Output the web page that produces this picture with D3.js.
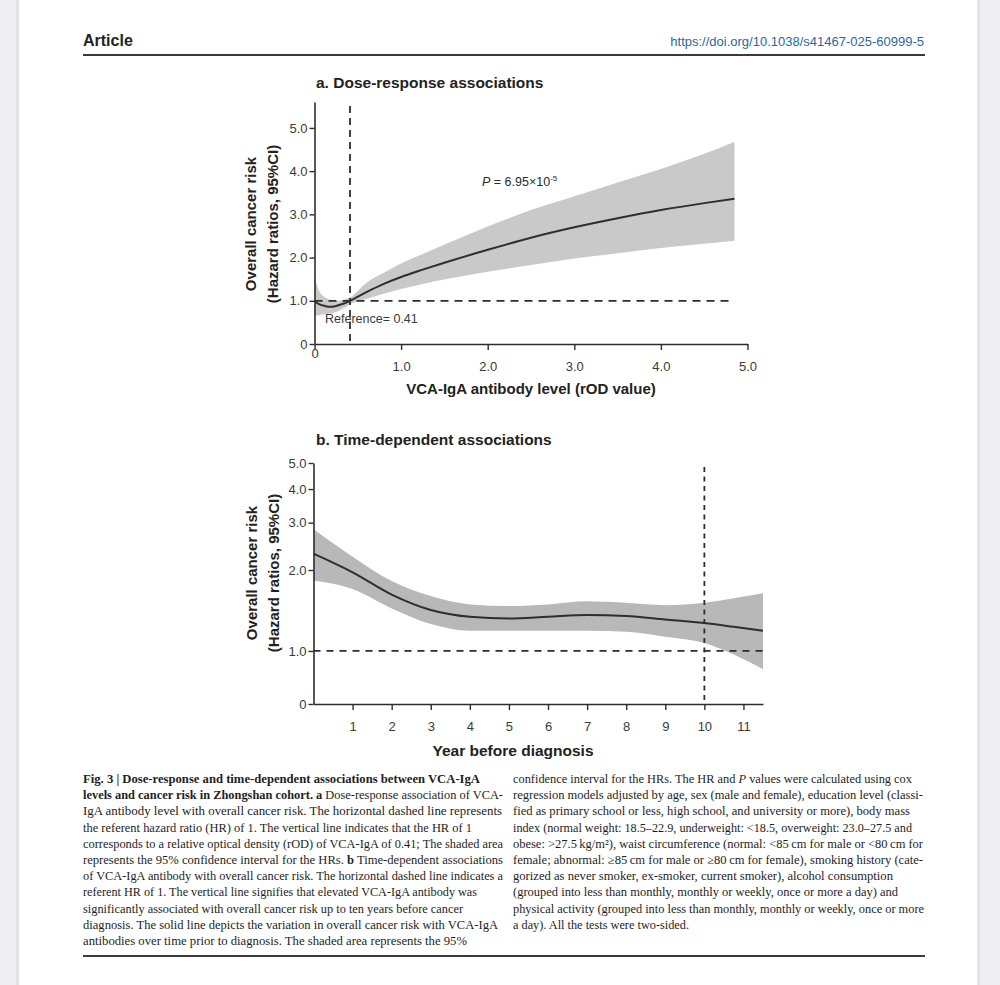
<!DOCTYPE html>
<html>
<head>
<meta charset="utf-8">
<script src="https://cdn.jsdelivr.net/npm/d3@7"></script>
<style>
	html, body { margin: 0; padding: 0; background: #ededf2; }
	svg { display: block; }
</style>
</head>
<body>
<div id="viz"></div>
<script>

	/********
	 * DATA *
	 ********/

	// a. dose-response (rOD value vs hazard ratio)
	var DOSE_X     = [0, 0.03, 0.08, 0.12, 0.18, 0.25, 0.33, 0.41, 0.6, 0.8, 1.0, 1.25, 1.5, 2.0, 2.5, 3.0, 3.5, 4.0, 4.5, 4.85];
	var DOSE_HR    = [1.0, 0.95, 0.90, 0.88, 0.86, 0.88, 0.93, 1.0, 1.20, 1.39, 1.55, 1.72, 1.88, 2.18, 2.46, 2.70, 2.91, 3.10, 3.26, 3.36];
	var DOSE_UPPER = [1.62, 1.35, 1.15, 1.08, 1.02, 1.0, 1.02, 1.08, 1.42, 1.65, 1.86, 2.08, 2.30, 2.72, 3.10, 3.42, 3.74, 4.05, 4.40, 4.68];
	var DOSE_LOWER = [0.66, 0.66, 0.68, 0.69, 0.70, 0.74, 0.82, 0.92, 1.04, 1.16, 1.27, 1.39, 1.49, 1.67, 1.83, 1.98, 2.10, 2.22, 2.32, 2.39];
	var DOSE_X_TICKS  = [0, 1, 2, 3, 4, 5];
	var DOSE_X_LABELS = ["0", "1.0", "2.0", "3.0", "4.0", "5.0"];
	var DOSE_Y_TICKS  = [0, 1, 2, 3, 4, 5];
	var DOSE_Y_LABELS = ["0", "1.0", "2.0", "3.0", "4.0", "5.0"];
	var DOSE_REF = 0.41;

	// b. time-dependent (years before diagnosis vs hazard ratio)
	var YEAR_X     = [0, 1, 2, 3, 4, 5, 6, 7, 8, 9, 10, 10.75, 11.5];
	var YEAR_HR    = [2.30, 1.96, 1.62, 1.42, 1.34, 1.32, 1.34, 1.36, 1.35, 1.31, 1.27, 1.23, 1.19];
	var YEAR_UPPER = [2.84, 2.24, 1.82, 1.60, 1.49, 1.47, 1.49, 1.53, 1.51, 1.48, 1.51, 1.57, 1.64];
	var YEAR_LOWER = [1.83, 1.70, 1.44, 1.26, 1.19, 1.19, 1.19, 1.19, 1.18, 1.13, 1.07, 0.97, 0.855];
	var YEAR_X_TICKS  = [1, 2, 3, 4, 5, 6, 7, 8, 9, 10, 11];
	var YEAR_Y_TICKS  = [0.635, 1, 2, 3, 4, 5];
	var YEAR_Y_LABELS = ["0", "1.0", "2.0", "3.0", "4.0", "5.0"];
	var YEAR_REF = 10;

	// caption lines: [text, style] segments
	var CAPTION_LEFT = [
		[["Fig. 3 | Dose-response and time-dependent associations between VCA-IgA", "b"]],
		[["levels and cancer risk in Zhongshan cohort. a", "b"], [" Dose-response association of VCA-", ""]],
		[["IgA antibody level with overall cancer risk. The horizontal dashed line represents", ""]],
		[["the referent hazard ratio (HR) of 1. The vertical line indicates that the HR of 1", ""]],
		[["corresponds to a relative optical density (rOD) of VCA-IgA of 0.41; The shaded area", ""]],
		[["represents the 95% confidence interval for the HRs. ", ""], ["b", "b"], [" Time-dependent associations", ""]],
		[["of VCA-IgA antibody with overall cancer risk. The horizontal dashed line indicates a", ""]],
		[["referent HR of 1. The vertical line signifies that elevated VCA-IgA antibody was", ""]],
		[["significantly associated with overall cancer risk up to ten years before cancer", ""]],
		[["diagnosis. The solid line depicts the variation in overall cancer risk with VCA-IgA", ""]],
		[["antibodies over time prior to diagnosis. The shaded area represents the 95%", ""]]
	];
	var CAPTION_RIGHT = [
		[["confidence interval for the HRs. The HR and ", ""], ["P", "i"], [" values were calculated using cox", ""]],
		[["regression models adjusted by age, sex (male and female), education level (classi-", ""]],
		[["fied as primary school or less, high school, and university or more), body mass", ""]],
		[["index (normal weight: 18.5\u201322.9, underweight: <18.5, overweight: 23.0\u201327.5 and", ""]],
		[["obese: >27.5\u2009kg/m\u00b2), waist circumference (normal: <85\u2009cm for male or <80\u2009cm for", ""]],
		[["female; abnormal: \u226585\u2009cm for male or \u226580\u2009cm for female), smoking history (cate-", ""]],
		[["gorized as never smoker, ex-smoker, current smoker), alcohol consumption", ""]],
		[["(grouped into less than monthly, monthly or weekly, once or more a day) and", ""]],
		[["physical activity (grouped into less than monthly, monthly or weekly, once or more", ""]],
		[["a day). All the tests were two-sided.", ""]]
	];

	/**********
	 * LAYOUT *
	 **********/

	var SVG_WIDTH = 1000, SVG_HEIGHT = 985;
	var SANS = "'Liberation Sans', Arial, sans-serif";
	var SERIF = "'Liberation Serif', 'Times New Roman', serif";
	var INK = "#2e2e2e";
	var CAP_LEFT_ENDS  = [480, 503, 502, 472, 503, 503, 503, 477, 463, 498, 467];
	var CAP_RIGHT_ENDS = [912, 923, 910, 912, 923, 923, 893, 898, 924, 689];

	var svg = d3.select("#viz")
		.append("svg")
		.attr("width", SVG_WIDTH)
		.attr("height", SVG_HEIGHT);

	// page
	svg.append("rect").attr("x", 16).attr("y", 0).attr("width", 964).attr("height", SVG_HEIGHT).attr("fill", "#e2e2e8");
	svg.append("rect").attr("x", 19).attr("y", 0).attr("width", 958).attr("height", SVG_HEIGHT).attr("fill", "#fff");

	// header
	svg.append("text").attr("x", 83).attr("y", 46)
		.style("font", "bold 16px " + SANS).attr("fill", "#222").text("Article");
	svg.append("text").attr("x", 924).attr("y", 46).attr("text-anchor", "end")
		.style("font", "13px " + SANS).attr("fill", "#1f6aa8")
		.text("https://doi.org/10.1038/s41467-025-60999-5");
	svg.append("line").attr("x1", 83).attr("x2", 925).attr("y1", 55).attr("y2", 55)
		.attr("stroke", "#3a3a3a").attr("stroke-width", 2);

	/*****************
	 * PANEL HELPERS *
	 *****************/

	function drawPanel(opt) {
		var g = svg.append("g");
		var x = opt.x, y = opt.y;

		var rows = opt.xs.map(function(d, i){
			return { x: d, hr: opt.hr[i], up: opt.up[i], lo: opt.lo[i] };
		});

		// confidence band
		g.append("path")
			.datum(rows)
			.attr("fill", opt.band)
			.attr("d", d3.area()
				.curve(d3.curveMonotoneX)
				.x(function(d){ return x(d.x); })
				.y0(function(d){ return y(d.lo); })
				.y1(function(d){ return y(d.up); }));

		// reference lines
		g.append("line")
			.attr("x1", x.range()[0]).attr("x2", x(opt.hEnd))
			.attr("y1", y(1)).attr("y2", y(1))
			.attr("stroke", INK).attr("stroke-width", 1.8)
			.attr("stroke-dasharray", opt.hDash);
		g.append("line")
			.attr("x1", x(opt.ref)).attr("x2", x(opt.ref))
			.attr("y1", opt.vTop).attr("y2", y.range()[0])
			.attr("stroke", INK).attr("stroke-width", 1.8)
			.attr("stroke-dasharray", opt.vDash);

		// estimate
		g.append("path")
			.datum(rows)
			.attr("fill", "none")
			.attr("stroke", INK)
			.attr("stroke-width", 2)
			.attr("d", d3.line()
				.curve(d3.curveMonotoneX)
				.x(function(d){ return x(d.x); })
				.y(function(d){ return y(d.hr); }));

		// axes
		var xAxis = g.append("g")
			.attr("transform", "translate(0," + y.range()[0] + ")")
			.call(d3.axisBottom(x)
				.tickValues(opt.xTicks)
				.tickFormat(function(d, i){ return opt.xLabels[i]; })
				.tickSize(6).tickSizeOuter(0).tickPadding(12));
		var yAxis = g.append("g")
			.attr("transform", "translate(" + x.range()[0] + ",0)")
			.call(d3.axisLeft(y)
				.tickValues(opt.yTicks)
				.tickFormat(function(d, i){ return opt.yLabels[i]; })
				.tickSize(5).tickSizeOuter(0).tickPadding(2));

		[xAxis, yAxis].forEach(function(a){
			a.select(".domain").attr("stroke", INK).attr("stroke-width", 1.6);
			a.selectAll(".tick line").attr("stroke", INK).attr("stroke-width", 1.4);
			a.selectAll(".tick text")
				.style("font", "13px " + SANS)
				.attr("fill", "#3a3a3a");
		});

		// titles
		g.append("text").attr("x", 316).attr("y", opt.titleY)
			.style("font", "bold 15.5px " + SANS).attr("fill", "#222")
			.text(opt.title);
		g.append("text").attr("x", opt.xTitleX).attr("y", opt.xTitleY)
			.attr("text-anchor", "middle")
			.style("font", "bold " + opt.xTitleSize + "px " + SANS).attr("fill", "#222")
			.text(opt.xTitle);
		["Overall cancer risk", "(Hazard ratios, 95%CI)"].forEach(function(t, i){
			g.append("text")
				.attr("transform", "translate(" + (opt.yTitleX + i * 22) + "," + opt.yTitleY + ") rotate(-90)")
				.attr("text-anchor", "middle")
				.attr("dy", "0.35em")
				.style("font", "bold 15px " + SANS).attr("fill", "#222")
				.text(t);
		});

		return { g: g, xAxis: xAxis };
	}

	/***********
	 * PANEL A *
	 ***********/

	var xA = d3.scaleLinear().domain([0, 5]).range([314.5, 747.5]);
	var yA = d3.scaleLinear().domain([0, 5.6]).range([344, 102]);

	var pa = drawPanel({
		x: xA, y: yA,
		xs: DOSE_X, hr: DOSE_HR, up: DOSE_UPPER, lo: DOSE_LOWER,
		band: "#c9c9c9",
		ref: DOSE_REF, hEnd: 4.85, vTop: 106,
		hDash: "8,6", vDash: "7,5",
		xTicks: DOSE_X_TICKS, xLabels: DOSE_X_LABELS,
		yTicks: DOSE_Y_TICKS, yLabels: DOSE_Y_LABELS,
		title: "a. Dose-response associations", titleY: 88,
		xTitle: "VCA-IgA antibody level (rOD value)", xTitleSize: 15, xTitleX: 531, xTitleY: 394,
		yTitleX: 251, yTitleY: 224
	});
	// the "0" label sits higher than the others
	pa.xAxis.selectAll(".tick").filter(function(d){ return d === 0; })
		.select("text").attr("y", 5);

	pa.g.append("text").attr("x", 325).attr("y", 323)
		.style("font", "12.5px " + SANS).attr("fill", "#3a3a3a")
		.text("Reference= 0.41");

	var pText = pa.g.append("text").attr("x", 482).attr("y", 186)
		.style("font", "12.5px " + SANS).attr("fill", "#2a2a2a");
	pText.append("tspan").style("font-style", "italic").text("P");
	pText.append("tspan").text(" = 6.95\u00d710");
	pText.append("tspan").attr("dy", -5).style("font-size", "8px").text("-5");

	/***********
	 * PANEL B *
	 ***********/

	var xB = d3.scaleLinear().domain([0, 11.5]).range([313.5, 763]);
	var yB = d3.scaleLog().domain([0.635, 5]).range([704, 463]);

	drawPanel({
		x: xB, y: yB,
		xs: YEAR_X, hr: YEAR_HR, up: YEAR_UPPER, lo: YEAR_LOWER,
		band: "#b8b8b8",
		ref: YEAR_REF, hEnd: 11.5, vTop: 467,
		hDash: "7,6", vDash: "5,4.5",
		xTicks: YEAR_X_TICKS, xLabels: YEAR_X_TICKS.map(String),
		yTicks: YEAR_Y_TICKS, yLabels: YEAR_Y_LABELS,
		title: "b. Time-dependent associations", titleY: 445,
		xTitle: "Year before diagnosis", xTitleSize: 15.5, xTitleX: 513, xTitleY: 756,
		yTitleX: 252, yTitleY: 573
	});

	/***********
	 * CAPTION *
	 ***********/

	function drawCaption(lines, x0, ends) {
		lines.forEach(function(segs, i){
			var t = svg.append("text")
				.attr("x", x0).attr("y", 783 + i * 16.2)
				.attr("textLength", ends[i] - x0)
				.attr("lengthAdjust", "spacingAndGlyphs")
				.style("font", "12px " + SERIF).attr("fill", "#1e1e1e");
			segs.forEach(function(s){
				var sp = t.append("tspan").text(s[0]);
				if (s[1] === "b") sp.style("font-weight", "bold");
				if (s[1] === "i") sp.style("font-style", "italic");
			});
		});
	}
	drawCaption(CAPTION_LEFT, 83, CAP_LEFT_ENDS);
	drawCaption(CAPTION_RIGHT, 513, CAP_RIGHT_ENDS);

	svg.append("line").attr("x1", 83).attr("x2", 925).attr("y1", 956).attr("y2", 956)
		.attr("stroke", "#3a3a3a").attr("stroke-width", 2);

</script>
</body>
</html>
